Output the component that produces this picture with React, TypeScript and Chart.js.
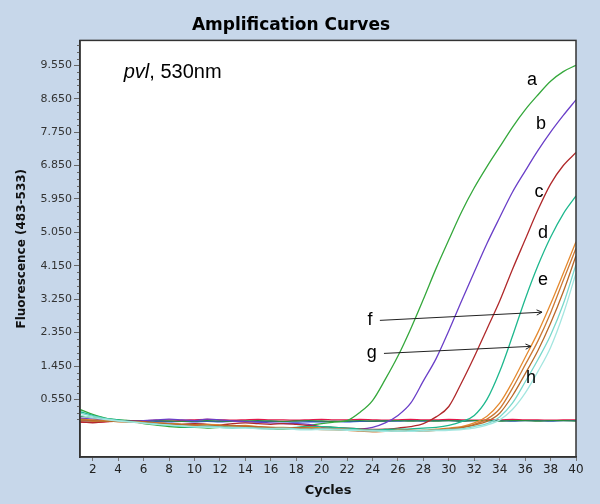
import React, { useEffect, useRef } from 'react';
import { Chart, registerables } from 'chart.js';

Chart.register(...registerables);

const CYCLES = [1,2,3,4,5,6,7,8,9,10,11,12,13,14,15,16,17,18,19,20,21,22,23,24,25,26,27,28,29,30,31,32,33,34,35,36,37,38,39,40];
const X_TICKS = [2,4,6,8,10,12,14,16,18,20,22,24,26,28,30,32,34,36,38,40];
const Y_TICKS = [0.55,1.45,2.35,3.25,4.15,5.05,5.95,6.85,7.75,8.65,9.55];

const A = [0.28,0.15,0.05,0.00,-0.03,-0.10,-0.14,-0.18,-0.20,-0.20,-0.22,-0.20,-0.16,-0.18,-0.22,-0.24,-0.25,-0.22,-0.15,-0.10,-0.06,-0.02,0.20,0.52,1.09,1.72,2.45,3.25,4.08,4.85,5.60,6.25,6.82,7.35,7.88,8.35,8.75,9.12,9.38,9.55];
const B = [0.05,0.02,0.00,-0.02,-0.03,-0.02,0.00,0.02,0.00,-0.02,0.02,0.00,-0.03,-0.05,-0.06,-0.08,-0.10,-0.10,-0.12,-0.20,-0.25,-0.26,-0.25,-0.20,-0.08,0.12,0.45,1.05,1.65,2.40,3.20,3.98,4.75,5.45,6.13,6.70,7.25,7.75,8.20,8.62];
const C = [-0.05,-0.08,-0.05,-0.03,-0.03,-0.05,-0.08,-0.10,-0.12,-0.10,-0.12,-0.14,-0.10,-0.08,-0.10,-0.12,-0.10,-0.12,-0.15,-0.18,-0.20,-0.22,-0.24,-0.26,-0.25,-0.22,-0.18,-0.10,0.08,0.36,1.00,1.70,2.45,3.20,4.05,4.85,5.65,6.35,6.85,7.20];
const D = [0.22,0.12,0.04,0.00,-0.04,-0.08,-0.12,-0.15,-0.18,-0.20,-0.18,-0.20,-0.22,-0.20,-0.22,-0.24,-0.22,-0.20,-0.18,-0.18,-0.20,-0.22,-0.25,-0.28,-0.26,-0.25,-0.24,-0.22,-0.20,-0.15,-0.05,0.12,0.55,1.30,2.25,3.25,4.15,4.92,5.55,6.03];
const E1 = [0.02,0.00,-0.02,-0.03,-0.05,-0.06,-0.08,-0.10,-0.12,-0.14,-0.12,-0.14,-0.16,-0.15,-0.18,-0.20,-0.20,-0.22,-0.20,-0.22,-0.24,-0.26,-0.28,-0.30,-0.30,-0.28,-0.30,-0.28,-0.25,-0.22,-0.18,-0.08,0.10,0.45,1.02,1.68,2.35,3.12,3.95,4.80];
const E2 = [-0.02,-0.04,-0.03,-0.05,-0.06,-0.08,-0.10,-0.12,-0.13,-0.15,-0.16,-0.15,-0.17,-0.18,-0.20,-0.22,-0.21,-0.23,-0.25,-0.26,-0.27,-0.28,-0.30,-0.32,-0.31,-0.30,-0.31,-0.30,-0.28,-0.25,-0.20,-0.12,0.02,0.30,0.85,1.48,2.12,2.88,3.76,4.62];
const E3 = [0.00,-0.02,-0.04,-0.04,-0.06,-0.07,-0.09,-0.11,-0.12,-0.13,-0.14,-0.16,-0.15,-0.17,-0.19,-0.20,-0.22,-0.21,-0.22,-0.24,-0.25,-0.26,-0.27,-0.29,-0.30,-0.29,-0.28,-0.29,-0.27,-0.24,-0.21,-0.14,-0.04,0.18,0.65,1.24,1.86,2.60,3.45,4.42];
const H1 = [0.18,0.10,0.03,-0.02,-0.05,-0.08,-0.11,-0.14,-0.16,-0.18,-0.17,-0.19,-0.20,-0.21,-0.22,-0.23,-0.22,-0.24,-0.25,-0.24,-0.25,-0.26,-0.27,-0.28,-0.29,-0.30,-0.29,-0.28,-0.27,-0.26,-0.24,-0.18,-0.10,0.08,0.45,1.02,1.62,2.28,3.12,4.18];
const H2 = [0.12,0.06,0.01,-0.03,-0.06,-0.09,-0.12,-0.14,-0.17,-0.19,-0.20,-0.21,-0.22,-0.22,-0.24,-0.25,-0.24,-0.26,-0.27,-0.26,-0.27,-0.28,-0.29,-0.30,-0.31,-0.30,-0.31,-0.30,-0.29,-0.28,-0.26,-0.22,-0.14,0.00,0.28,0.72,1.30,1.95,2.85,3.95];
const N1 = [-0.06,-0.07,-0.05,-0.03,-0.02,-0.02,-0.01,0.00,-0.01,0.00,0.01,0.00,-0.01,0.00,0.01,0.00,0.00,-0.01,0.00,0.01,0.00,0.00,0.01,0.00,-0.01,0.00,0.01,0.00,0.00,0.01,0.00,-0.01,0.00,0.00,0.01,0.00,0.00,-0.01,0.00,0.00];
const N2 = [-0.02,-0.03,-0.03,-0.04,-0.04,-0.03,-0.04,-0.05,-0.04,-0.05,-0.04,-0.05,-0.04,-0.04,-0.05,-0.04,-0.05,-0.06,-0.05,-0.05,-0.04,-0.05,-0.04,-0.04,-0.03,-0.03,-0.02,-0.03,-0.02,-0.02,-0.03,-0.02,-0.02,-0.02,-0.03,-0.02,-0.02,-0.03,-0.02,-0.02];
const N3 = [0.10,0.06,0.02,-0.01,-0.02,-0.03,-0.02,-0.03,-0.04,-0.03,-0.02,-0.03,-0.04,-0.03,-0.02,-0.03,-0.04,-0.03,-0.02,-0.03,-0.04,-0.03,-0.02,-0.03,-0.03,-0.02,-0.03,-0.02,-0.03,-0.02,-0.03,-0.02,-0.02,-0.03,-0.02,-0.02,-0.03,-0.02,-0.02,-0.03];

const SERIES = [H2, H1, E3, E2, E1, D, C, B, A, N3, N2, N1];
const COLORS = ['#A4E6E0', '#79D8CC', '#B86A2A', '#CC7A35', '#E58A30', '#1EB88E', '#B0292B', '#6A3FC8', '#35A83C', '#2E8B3E', '#2E4FD6', '#E3174A'];

const LABELS = ['a', 'b', 'c', 'd', 'e', 'f', 'g', 'h'];
const LABEL_X = [36.54, 37.25, 37.09, 37.4, 37.4, 23.8, 23.95, 36.46];
const LABEL_Y = [9.15, 7.96, 6.13, 5.02, 3.76, 2.68, 1.79, 1.12];
const ARROW_X0 = [24.58, 24.9];
const ARROW_Y0 = [2.68, 1.79];
const ARROW_X1 = [37.33, 36.46];
const ARROW_Y1 = [2.90, 1.98];
const NOTE_X = 4.44;
const NOTE_Y = 9.35;

const chromePlugin = {
  id: 'chrome',
  beforeDraw(chart: any) {
    const { ctx, chartArea: ca, width, height } = chart;
    ctx.save();
    ctx.fillStyle = '#C7D7EA';
    ctx.fillRect(0, 0, width, height);
    ctx.fillStyle = '#ffffff';
    ctx.fillRect(ca.left, ca.top, ca.right - ca.left, ca.bottom - ca.top);
    ctx.restore();
  },
  afterDatasetsDraw(chart: any) {
    const { ctx } = chart;
    const xs = chart.scales.x;
    const ys = chart.scales.y;
    ctx.save();
    ctx.fillStyle = '#000';
    ctx.textAlign = 'center';
    ctx.textBaseline = 'middle';
    ctx.font = '18px "Liberation Sans", Arial, sans-serif';
    LABELS.forEach((t, i) => {
      ctx.fillText(t, xs.getPixelForValue(LABEL_X[i]), ys.getPixelForValue(LABEL_Y[i]));
    });
    ctx.strokeStyle = '#222';
    ctx.lineWidth = 1;
    ARROW_X0.forEach((_, i) => {
      const x0 = xs.getPixelForValue(ARROW_X0[i]);
      const y0 = ys.getPixelForValue(ARROW_Y0[i]);
      const x1 = xs.getPixelForValue(ARROW_X1[i]);
      const y1 = ys.getPixelForValue(ARROW_Y1[i]);
      ctx.beginPath();
      ctx.moveTo(x0, y0);
      ctx.lineTo(x1, y1);
      const ang = Math.atan2(y1 - y0, x1 - x0);
      const L = 6;
      ctx.moveTo(x1 - L * Math.cos(ang - 0.45), y1 - L * Math.sin(ang - 0.45));
      ctx.lineTo(x1, y1);
      ctx.lineTo(x1 - L * Math.cos(ang + 0.45), y1 - L * Math.sin(ang + 0.45));
      ctx.stroke();
    });
    const nx = xs.getPixelForValue(NOTE_X);
    const ny = ys.getPixelForValue(NOTE_Y);
    ctx.textAlign = 'left';
    ctx.font = 'italic 20px "Liberation Sans", Arial, sans-serif';
    ctx.fillText('pvl', nx, ny);
    const w = ctx.measureText('pvl').width;
    ctx.font = '20px "Liberation Sans", Arial, sans-serif';
    ctx.fillText(', 530nm', nx + w, ny);
    ctx.restore();
  },
  afterDraw(chart: any) {
    const { ctx, chartArea: ca } = chart;
    const ys = chart.scales.y;
    ctx.save();
    ctx.strokeStyle = '#666';
    ctx.lineWidth = 1;
    for (let k = 0; k < Y_TICKS.length; k++) {
      for (let j = -3; j < 5; j++) {
        if (j === 0) continue;
        const v = Y_TICKS[k] + j * 0.18;
        if (j < 0 && k > 0) continue;
        if (v > 10.15) continue;
        const y = Math.round(ys.getPixelForValue(v)) + 0.5;
        ctx.beginPath();
        ctx.moveTo(ca.left - 3, y);
        ctx.lineTo(ca.left, y);
        ctx.stroke();
      }
    }
    ctx.strokeStyle = '#333';
    ctx.lineWidth = 1.5;
    ctx.strokeRect(ca.left, ca.top, ca.right - ca.left, ca.bottom - ca.top);
    ctx.restore();
  },
};

export default function App() {
  const ref = useRef<HTMLCanvasElement | null>(null);
  useEffect(() => {
    document.body.style.margin = '0';
    const canvas = ref.current;
    if (!canvas) return;
    const chart = new Chart(canvas, {
      type: 'line',
      data: {
        datasets: SERIES.map((s, i) => ({
          data: CYCLES.map((c, j) => ({ x: c, y: s[j] })),
          borderColor: COLORS[i],
          backgroundColor: COLORS[i],
          borderWidth: 1.3,
          pointRadius: 0,
          fill: false,
          cubicInterpolationMode: 'monotone' as const,
        })),
      },
      options: {
        responsive: false,
        animation: false,
        layout: { padding: { left: 6, right: 24, top: 0, bottom: 6 } },
        plugins: {
          legend: { display: false },
          tooltip: { enabled: false },
          title: {
            display: true,
            text: 'Amplification Curves',
            color: '#000',
            font: { family: '"DejaVu Sans", sans-serif', size: 17, weight: 'bold' },
            padding: { top: 15, bottom: 5 },
          },
        },
        scales: {
          x: {
            type: 'linear',
            min: 1,
            max: 40,
            afterBuildTicks: (s: any) => { s.ticks = X_TICKS.map((v) => ({ value: v })); },
            afterFit: (s: any) => { s.height = 41; },
            ticks: {
              autoSkip: false,
              maxRotation: 0,
              padding: 2,
              color: '#222',
              font: { family: '"DejaVu Sans", sans-serif', size: 12 },
              callback: (v: any) => String(v),
            },
            grid: { drawOnChartArea: false, drawTicks: true, tickLength: 4, color: '#777' },
            border: { display: true, color: '#333', width: 1.5 },
            title: {
              display: true,
              text: 'Cycles',
              color: '#111',
              font: { family: '"DejaVu Sans", sans-serif', size: 13, weight: 'bold' },
              padding: { top: 0, bottom: 0 },
            },
          },
          y: {
            type: 'linear',
            min: -1.0,
            max: 10.22,
            afterBuildTicks: (s: any) => { s.ticks = Y_TICKS.map((v) => ({ value: v })); },
            afterFit: (s: any) => { s.width = 74; },
            ticks: {
              padding: 2,
              color: '#333',
              font: { family: '"DejaVu Sans", sans-serif', size: 11 },
              callback: (v: any) => Number(v).toFixed(3),
            },
            grid: { drawOnChartArea: false, drawTicks: true, tickLength: 6, color: '#666' },
            border: { display: true, color: '#333', width: 1.5 },
            title: {
              display: true,
              text: 'Fluorescence (483-533)',
              color: '#111',
              font: { family: '"DejaVu Sans", sans-serif', size: 12, weight: 'bold' },
              padding: { top: 9, bottom: 0 },
            },
          },
        },
      },
      plugins: [chromePlugin],
    });
    return () => chart.destroy();
  }, []);
  return <canvas ref={ref} width={600} height={504} style={{ display: 'block', width: 600, height: 504 }} />;
}
